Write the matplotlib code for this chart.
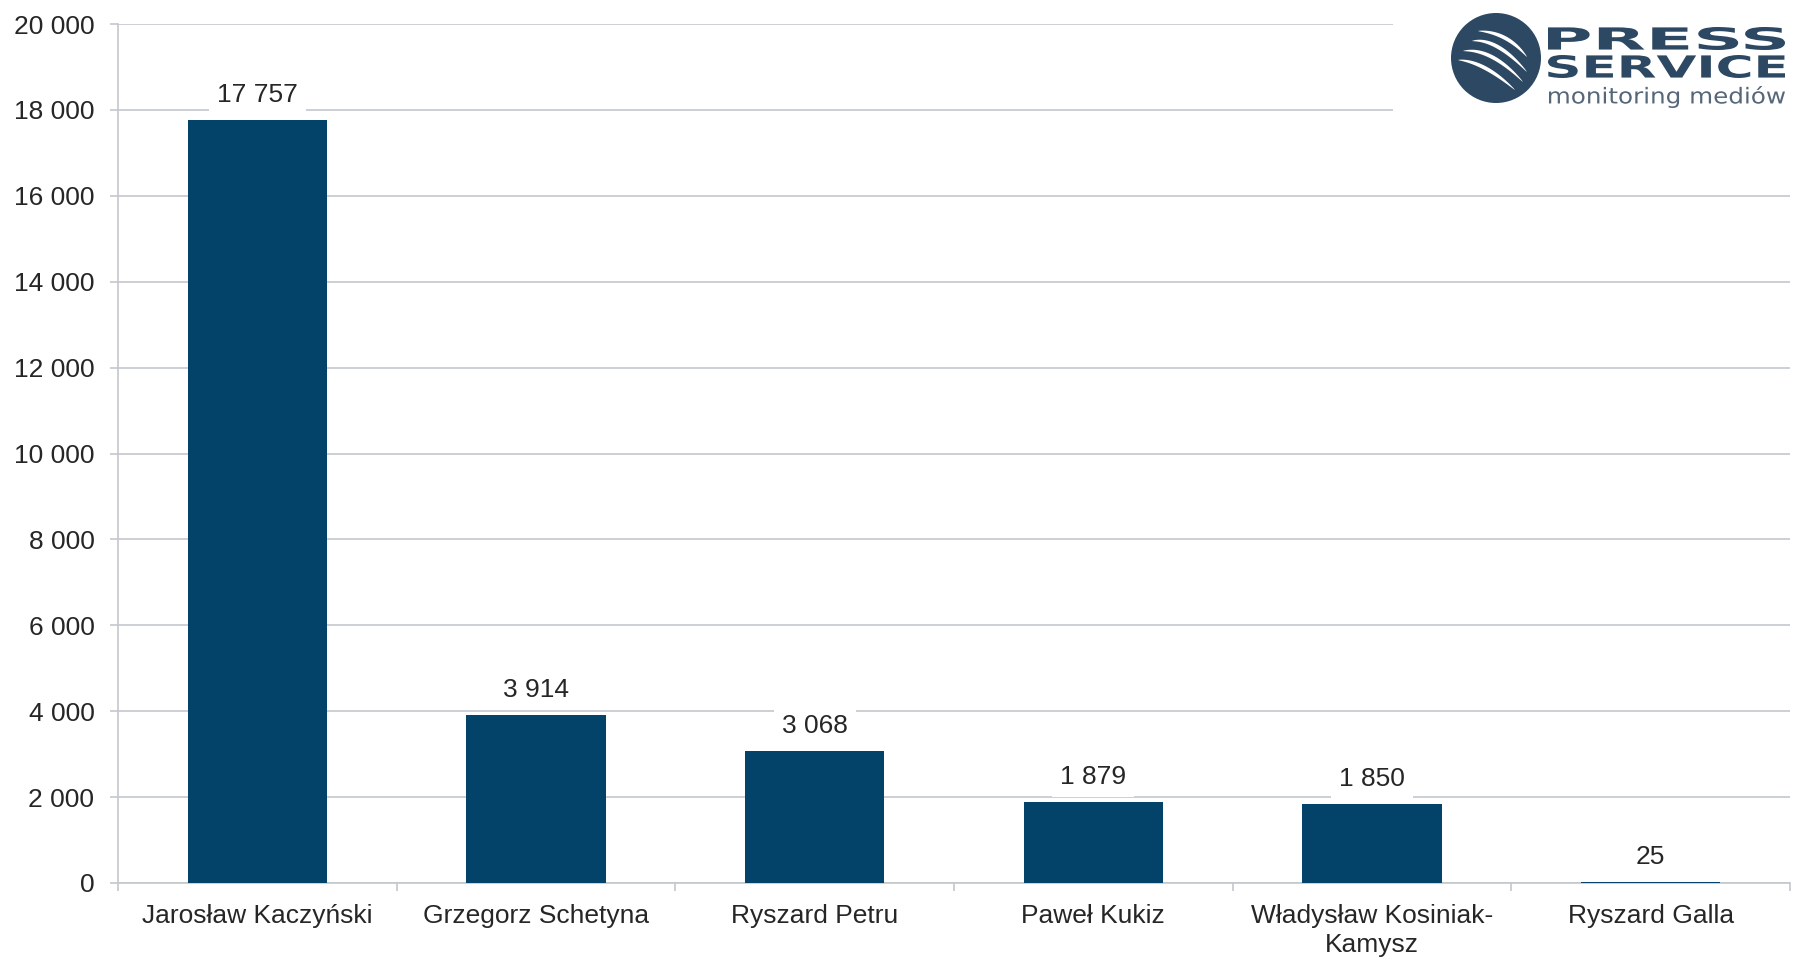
import matplotlib
matplotlib.use("Agg")
import matplotlib.pyplot as plt
import numpy as np
from matplotlib.patches import Circle, Rectangle, PathPatch, Polygon
from matplotlib.textpath import TextPath
from matplotlib.font_manager import FontProperties
from matplotlib.transforms import Affine2D
from matplotlib.ticker import FuncFormatter, FixedLocator

# data
names = ["Jarosław Kaczyński", "Grzegorz Schetyna", "Ryszard Petru",
         "Paweł Kukiz", "Władysław Kosiniak-\nKamysz", "Ryszard Galla"]
values = [17757, 3914, 3068, 1879, 1850, 25]
y_ticks = [0, 2000, 4000, 6000, 8000, 10000, 12000, 14000, 16000, 18000, 20000]

bar_color = "#03436A"
grid_color = "#C3C8CD"
text_color = "#262626"
logo_color = "#2C4862"

plt.rcParams["font.family"] = ["Liberation Sans", "DejaVu Sans"]

W, H = 1793, 960
fig = plt.figure(figsize=(W / 100, H / 100), dpi=100)
ax = fig.add_axes([118 / W, (H - 883) / H, (1790 - 118) / W, (883 - 24) / H])

x = np.arange(len(names))
ax.bar(x, values, width=0.5, color=bar_color, zorder=3)

def sep(v, pos=None):
    return f"{int(v):,}".replace(",", " ")

for xi, v in zip(x, values):
    ax.annotate(sep(v), (xi, v), xytext=(0, 18), textcoords="offset points",
                ha="center", va="center", fontsize=19, color=text_color,
                bbox=dict(boxstyle="square,pad=0.3", fc="white", ec="none"),
                zorder=4)

ax.set_xlim(-0.5, len(names) - 0.5)
ax.set_ylim(0, 20000)
ax.set_yticks(y_ticks)
ax.yaxis.set_major_formatter(FuncFormatter(sep))
ax.set_xticks(x)
ax.set_xticklabels(names, fontsize=19, color=text_color, linespacing=1.25)
ax.xaxis.set_minor_locator(FixedLocator(np.arange(-0.5, len(names), 1.0)))
ax.tick_params(axis="x", which="major", length=0, pad=15)
ax.tick_params(axis="x", which="minor", length=6, width=1.2, color=grid_color)
ax.tick_params(axis="y", length=6, width=1.2, color=grid_color, pad=11,
               labelsize=19, labelcolor=text_color)
ax.grid(axis="y", color=grid_color, linewidth=1.2, zorder=0)
for s in ["top", "right"]:
    ax.spines[s].set_visible(False)
for s in ["left", "bottom"]:
    ax.spines[s].set_color(grid_color)
    ax.spines[s].set_linewidth(1.2)

# logo overlay in pixel coordinates
ov = fig.add_axes([0, 0, 1, 1])
ov.set_xlim(0, W)
ov.set_ylim(H, 0)
ov.axis("off")
ov.add_patch(Rectangle((1393, 0), W - 1393, 122, fc="white", ec="none"))

circ = Circle((1496, 58), 45, fc=logo_color, ec="none")
ov.add_patch(circ)
stripes = [((1478, 31), (1505, 38), (1527, 57)),
           ((1472, 41), (1498, 47), (1527, 72)),
           ((1463, 51), (1492, 57), (1523, 82)),
           ((1458, 60), (1485, 68), (1515, 90))]
t = np.linspace(0, 1, 60)
for p0, pm, p2 in stripes:
    p0, pm, p2 = map(np.array, (p0, pm, p2))
    p1 = 2 * pm - (p0 + p2) / 2
    pts = (((1 - t) ** 2)[:, None] * p0 + (2 * (1 - t) * t)[:, None] * p1
           + (t ** 2)[:, None] * p2)
    d = np.gradient(pts, axis=0)
    nrm = np.stack([-d[:, 1], d[:, 0]], axis=1)
    nrm /= np.linalg.norm(nrm, axis=1)[:, None]
    w = 1.9 * np.sin(np.pi * t) ** 0.7
    poly = np.vstack([pts + nrm * w[:, None], (pts - nrm * w[:, None])[::-1]])
    pg = Polygon(poly, closed=True, fc="white", ec="none")
    ov.add_patch(pg)
    pg.set_clip_path(circ)

def fit_text(s, x0, y0, x1, y1, color, fp):
    tp = TextPath((0, 0), s, prop=fp, size=10)
    ext = tp.get_extents()
    tr = (Affine2D().translate(-ext.x0, -ext.y0)
          .scale((x1 - x0) / ext.width, -(y1 - y0) / ext.height)
          .translate(x0, y1))
    ov.add_patch(PathPatch(tr.transform_path(tp), fc=color, ec="none"))

bold = FontProperties(family="DejaVu Sans", weight="bold")
light = FontProperties(family="DejaVu Sans")
fit_text("PRESS", 1548, 27, 1785, 50, logo_color, bold)
fit_text("SERVICE", 1548, 55, 1785, 78, logo_color, bold)
fit_text("monitoring mediów", 1549, 86, 1785, 108, "#56677A", light)

fig.savefig("out.png", dpi=100)
